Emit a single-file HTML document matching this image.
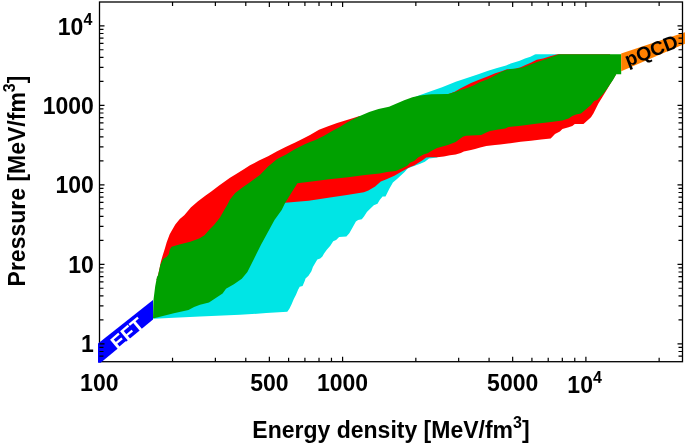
<!DOCTYPE html>
<html><head><meta charset="utf-8"><style>
html,body{margin:0;padding:0;background:#fff;}
body{width:685px;height:443px;overflow:hidden;}
svg{display:block;will-change:transform;font-family:"Liberation Sans",sans-serif;font-weight:bold;}
</style></head><body>
<svg width="685" height="443" viewBox="0 0 685 443">
<rect width="685" height="443" fill="#fff"/>
<polygon points="153.3,318.8 200.0,316.6 240.0,314.8 266.3,313.1 287.3,311.7 289.4,308.7 291.6,304.3 293.8,299.1 296.0,294.7 298.2,289.6 299.7,286.7 302.6,285.9 304.8,280.8 305.5,278.6 308.5,275.7 311.4,271.3 312.9,266.9 315.1,263.2 317.3,259.5 320.2,258.5 322.4,256.6 323.9,253.7 326.6,250.1 330.3,245.7 333.2,241.3 336.1,239.9 339.1,236.9 346.4,236.6 349.3,233.3 352.3,228.1 355.9,221.5 358.1,220.1 361.8,219.3 364.0,216.4 366.9,212.0 369.4,209.6 373.8,205.2 377.5,203.7 379.7,200.0 382.6,196.4 385.5,196.4 389.2,189.0 392.9,182.4 397.3,178.8 404.6,172.1 407.6,168.5 410.0,167.4 414.1,166.1 420.2,163.7 424.9,161.7 429.0,158.6 437.1,157.6 445.0,150.0 500.0,100.0 550.0,60.0 557.5,54.2 535.8,54.2 534.9,54.6 530.4,56.7 525.0,58.5 519.7,60.8 510.7,63.6 506.1,65.4 497.1,68.1 488.1,70.8 479.0,73.9 470.0,77.1 455.7,81.7 442.1,87.2 428.6,92.1 416.8,96.2 410.0,100.0 300.0,170.0 200.0,280.0" fill="#00e5e5"/>
<polygon points="156.4,280.0 158.1,275.0 159.5,268.4 160.8,262.1 162.6,255.8 164.9,248.6 166.7,242.2 168.3,238.0 169.6,234.5 171.7,230.7 175.3,224.4 179.8,219.0 182.5,216.7 184.5,215.0 190.8,207.5 198.0,201.2 205.3,195.8 211.6,191.2 218.8,185.8 225.1,181.3 230.0,177.7 237.0,173.4 244.2,169.1 250.0,165.3 259.0,160.6 268.1,156.2 277.1,151.3 286.1,146.7 295.2,142.5 304.2,137.9 310.0,135.0 319.0,129.8 328.1,126.2 337.1,123.0 346.1,120.3 353.4,118.1 358.8,116.3 364.0,116.0 400.0,104.5 430.0,97.0 449.3,93.7 454.7,91.7 460.2,88.5 465.6,85.8 471.0,83.0 479.0,79.8 488.1,76.2 495.3,73.3 501.6,71.2 507.0,69.2 510.7,69.2 515.2,68.8 520.6,67.2 525.0,65.3 531.3,62.4 536.7,59.7 543.1,58.5 550.3,56.3 556.6,54.6 557.5,54.2 610.0,54.2 616.0,74.5 609.6,85.0 605.9,91.2 602.1,97.4 598.4,103.6 593.4,113.5 591.0,117.3 583.5,124.1 574.8,124.1 572.3,126.0 568.6,127.2 562.4,129.1 559.9,131.5 555.0,134.0 550.7,138.5 541.1,139.6 530.9,140.7 520.7,141.7 510.4,143.2 500.2,144.5 495.0,144.9 486.3,146.0 480.2,147.5 475.1,149.0 471.0,150.0 463.8,151.6 460.8,153.1 455.7,154.6 450.0,155.2 443.8,156.6 437.1,157.3 430.3,157.3 426.2,157.6 422.2,160.6 418.1,163.0 414.1,165.4 410.0,167.1 401.7,171.4 394.4,175.8 386.5,179.2 380.8,181.4 375.2,186.5 368.4,190.5 363.9,192.2 346.9,195.0 330.0,197.5 308.7,200.7 285.2,202.7 260.0,220.0 200.0,265.0 165.0,280.0" fill="#ff0000"/>
<polygon points="153.0,318.6 153.3,305.0 153.5,299.8 155.2,286.3 156.9,277.3 158.1,275.0 160.4,264.8 163.1,258.9 166.7,256.7 168.9,254.0 169.8,249.5 171.6,246.7 179.3,244.5 190.2,241.8 199.2,238.6 204.5,235.3 210.0,228.9 214.0,225.0 220.0,217.5 224.2,210.0 227.2,205.0 230.0,199.4 235.2,193.0 242.4,187.6 250.0,182.2 259.9,175.0 268.1,166.6 277.1,158.9 286.1,154.4 295.2,149.0 304.2,144.5 310.0,142.0 315.4,140.0 323.6,136.1 332.6,130.7 339.8,127.1 347.0,122.6 353.4,119.0 358.8,116.5 361.0,115.4 369.2,111.9 378.5,109.0 389.0,106.7 396.0,103.8 404.2,100.3 412.4,97.3 420.0,95.6 422.2,95.3 431.3,94.2 448.4,93.9 455.7,91.7 460.2,89.9 465.6,88.5 469.2,87.2 474.0,85.2 479.0,82.5 488.1,78.9 495.3,75.3 501.6,71.7 506.1,69.9 510.7,69.0 517.0,68.5 522.4,67.6 526.0,66.2 530.4,64.4 537.6,61.7 543.1,59.9 550.3,57.6 555.7,55.5 558.0,54.5 559.0,54.2 621.2,54.2 621.2,74.3 616.3,74.3 613.0,80.0 609.6,85.0 607.1,88.7 603.4,93.7 599.6,97.4 597.2,99.9 594.1,101.1 591.0,104.9 586.0,109.2 581.0,113.5 576.1,114.5 572.3,116.0 568.6,118.5 562.4,120.4 551.0,122.0 536.0,123.8 520.7,125.8 508.4,126.9 505.3,128.4 498.2,129.4 490.0,131.0 486.3,132.4 481.2,135.0 465.9,135.7 462.8,136.8 458.7,139.8 455.7,141.9 450.5,143.9 447.9,145.1 442.5,146.4 437.1,148.1 431.7,150.8 427.6,153.2 423.5,154.6 418.1,157.6 414.1,161.0 410.0,162.7 407.6,165.5 401.7,168.5 395.8,171.1 387.0,172.1 379.7,173.6 365.0,175.1 348.0,177.2 329.1,179.2 313.8,181.3 297.4,183.3 285.2,202.7 281.7,210.0 274.5,220.0 267.7,232.4 261.0,244.8 254.2,258.4 247.4,271.9 241.8,278.7 233.9,284.3 226.0,288.8 222.6,293.4 209.0,302.4 200.0,304.8 194.1,307.1 188.5,310.0 173.8,313.3" fill="#00a100"/>
<polygon points="621.2,53.6 685.0,32.2 685.0,43.8 621.2,71.2" fill="#ff8000"/>
<rect x="99.5" y="2.0" width="583.0" height="359.7" fill="none" stroke="#000" stroke-width="1.3"/>
<polygon points="98.0,343.5 153.0,300.0 153.0,319.5 100.6,362.8 98.0,362.8" fill="#0000ff"/>
<text transform="translate(131.9,338.8) rotate(-40)" font-size="19.5" fill="#fff" text-anchor="middle">EFT</text>
<text transform="translate(653.6,56.9) rotate(-20.7)" font-size="19.5" fill="#000" text-anchor="middle">pQCD</text>
<path d="M172.54,361.7v-4M172.54,2.0v4M215.38,361.7v-4M215.38,2.0v4M245.78,361.7v-4M245.78,2.0v4M269.36,361.7v-5M269.36,2.0v5M288.62,361.7v-4M288.62,2.0v4M304.91,361.7v-4M304.91,2.0v4M319.02,361.7v-4M319.02,2.0v4M331.47,361.7v-4M331.47,2.0v4M342.60,361.7v-5M342.60,2.0v5M415.84,361.7v-4M415.84,2.0v4M458.68,361.7v-4M458.68,2.0v4M489.08,361.7v-4M489.08,2.0v4M512.66,361.7v-5M512.66,2.0v5M531.92,361.7v-4M531.92,2.0v4M548.21,361.7v-4M548.21,2.0v4M562.32,361.7v-4M562.32,2.0v4M574.77,361.7v-4M574.77,2.0v4M585.90,361.7v-5M585.90,2.0v5M659.14,361.7v-4M659.14,2.0v4M659.14,361.7v-4M659.14,2.0v4M99.5,356.11h4M682.5,356.11h-4M99.5,351.50h4M682.5,351.50h-4M99.5,347.44h4M682.5,347.44h-4M99.5,343.80h5M682.5,343.80h-5M99.5,319.87h4M682.5,319.87h-4M99.5,305.87h4M682.5,305.87h-4M99.5,295.94h4M682.5,295.94h-4M99.5,288.23h4M682.5,288.23h-4M99.5,281.94h4M682.5,281.94h-4M99.5,276.61h4M682.5,276.61h-4M99.5,272.00h4M682.5,272.00h-4M99.5,267.94h4M682.5,267.94h-4M99.5,264.30h5M682.5,264.30h-5M99.5,240.37h4M682.5,240.37h-4M99.5,226.37h4M682.5,226.37h-4M99.5,216.44h4M682.5,216.44h-4M99.5,208.73h4M682.5,208.73h-4M99.5,202.44h4M682.5,202.44h-4M99.5,197.11h4M682.5,197.11h-4M99.5,192.50h4M682.5,192.50h-4M99.5,188.44h4M682.5,188.44h-4M99.5,184.80h5M682.5,184.80h-5M99.5,160.87h4M682.5,160.87h-4M99.5,146.87h4M682.5,146.87h-4M99.5,136.94h4M682.5,136.94h-4M99.5,129.23h4M682.5,129.23h-4M99.5,122.94h4M682.5,122.94h-4M99.5,117.61h4M682.5,117.61h-4M99.5,113.00h4M682.5,113.00h-4M99.5,108.94h4M682.5,108.94h-4M99.5,105.30h5M682.5,105.30h-5M99.5,81.37h4M682.5,81.37h-4M99.5,67.37h4M682.5,67.37h-4M99.5,57.44h4M682.5,57.44h-4M99.5,49.73h4M682.5,49.73h-4M99.5,43.44h4M682.5,43.44h-4M99.5,38.11h4M682.5,38.11h-4M99.5,33.50h4M682.5,33.50h-4M99.5,29.44h4M682.5,29.44h-4M99.5,25.80h5M682.5,25.80h-5" stroke="#000" stroke-width="1.2" fill="none"/>
<g font-size="23" fill="#000">
<text x="92.3" y="34.5" text-anchor="end">10<tspan font-size="16" dy="-10">4</tspan></text>
<text x="93.8" y="113.6" text-anchor="end">1000</text>
<text x="93.8" y="193" text-anchor="end">100</text>
<text x="93.8" y="272.5" text-anchor="end">10</text>
<text x="93.8" y="352" text-anchor="end">1</text>
<text x="99.3" y="390.7" text-anchor="middle">100</text>
<text x="269.4" y="390.7" text-anchor="middle">500</text>
<text x="342.6" y="390.7" text-anchor="middle">1000</text>
<text x="512.7" y="390.7" text-anchor="middle">5000</text>
<text x="584.6" y="392.7" text-anchor="middle">10<tspan font-size="16" dy="-10">4</tspan></text>
<text x="391" y="438" text-anchor="middle">Energy density [MeV/fm<tspan font-size="16" dy="-10">3</tspan><tspan dy="10">]</tspan></text>
<text transform="translate(25,181) rotate(-90)" text-anchor="middle">Pressure [MeV/fm<tspan font-size="16" dy="-10">3</tspan><tspan dy="10">]</tspan></text>
</g>
</svg>
</body></html>
